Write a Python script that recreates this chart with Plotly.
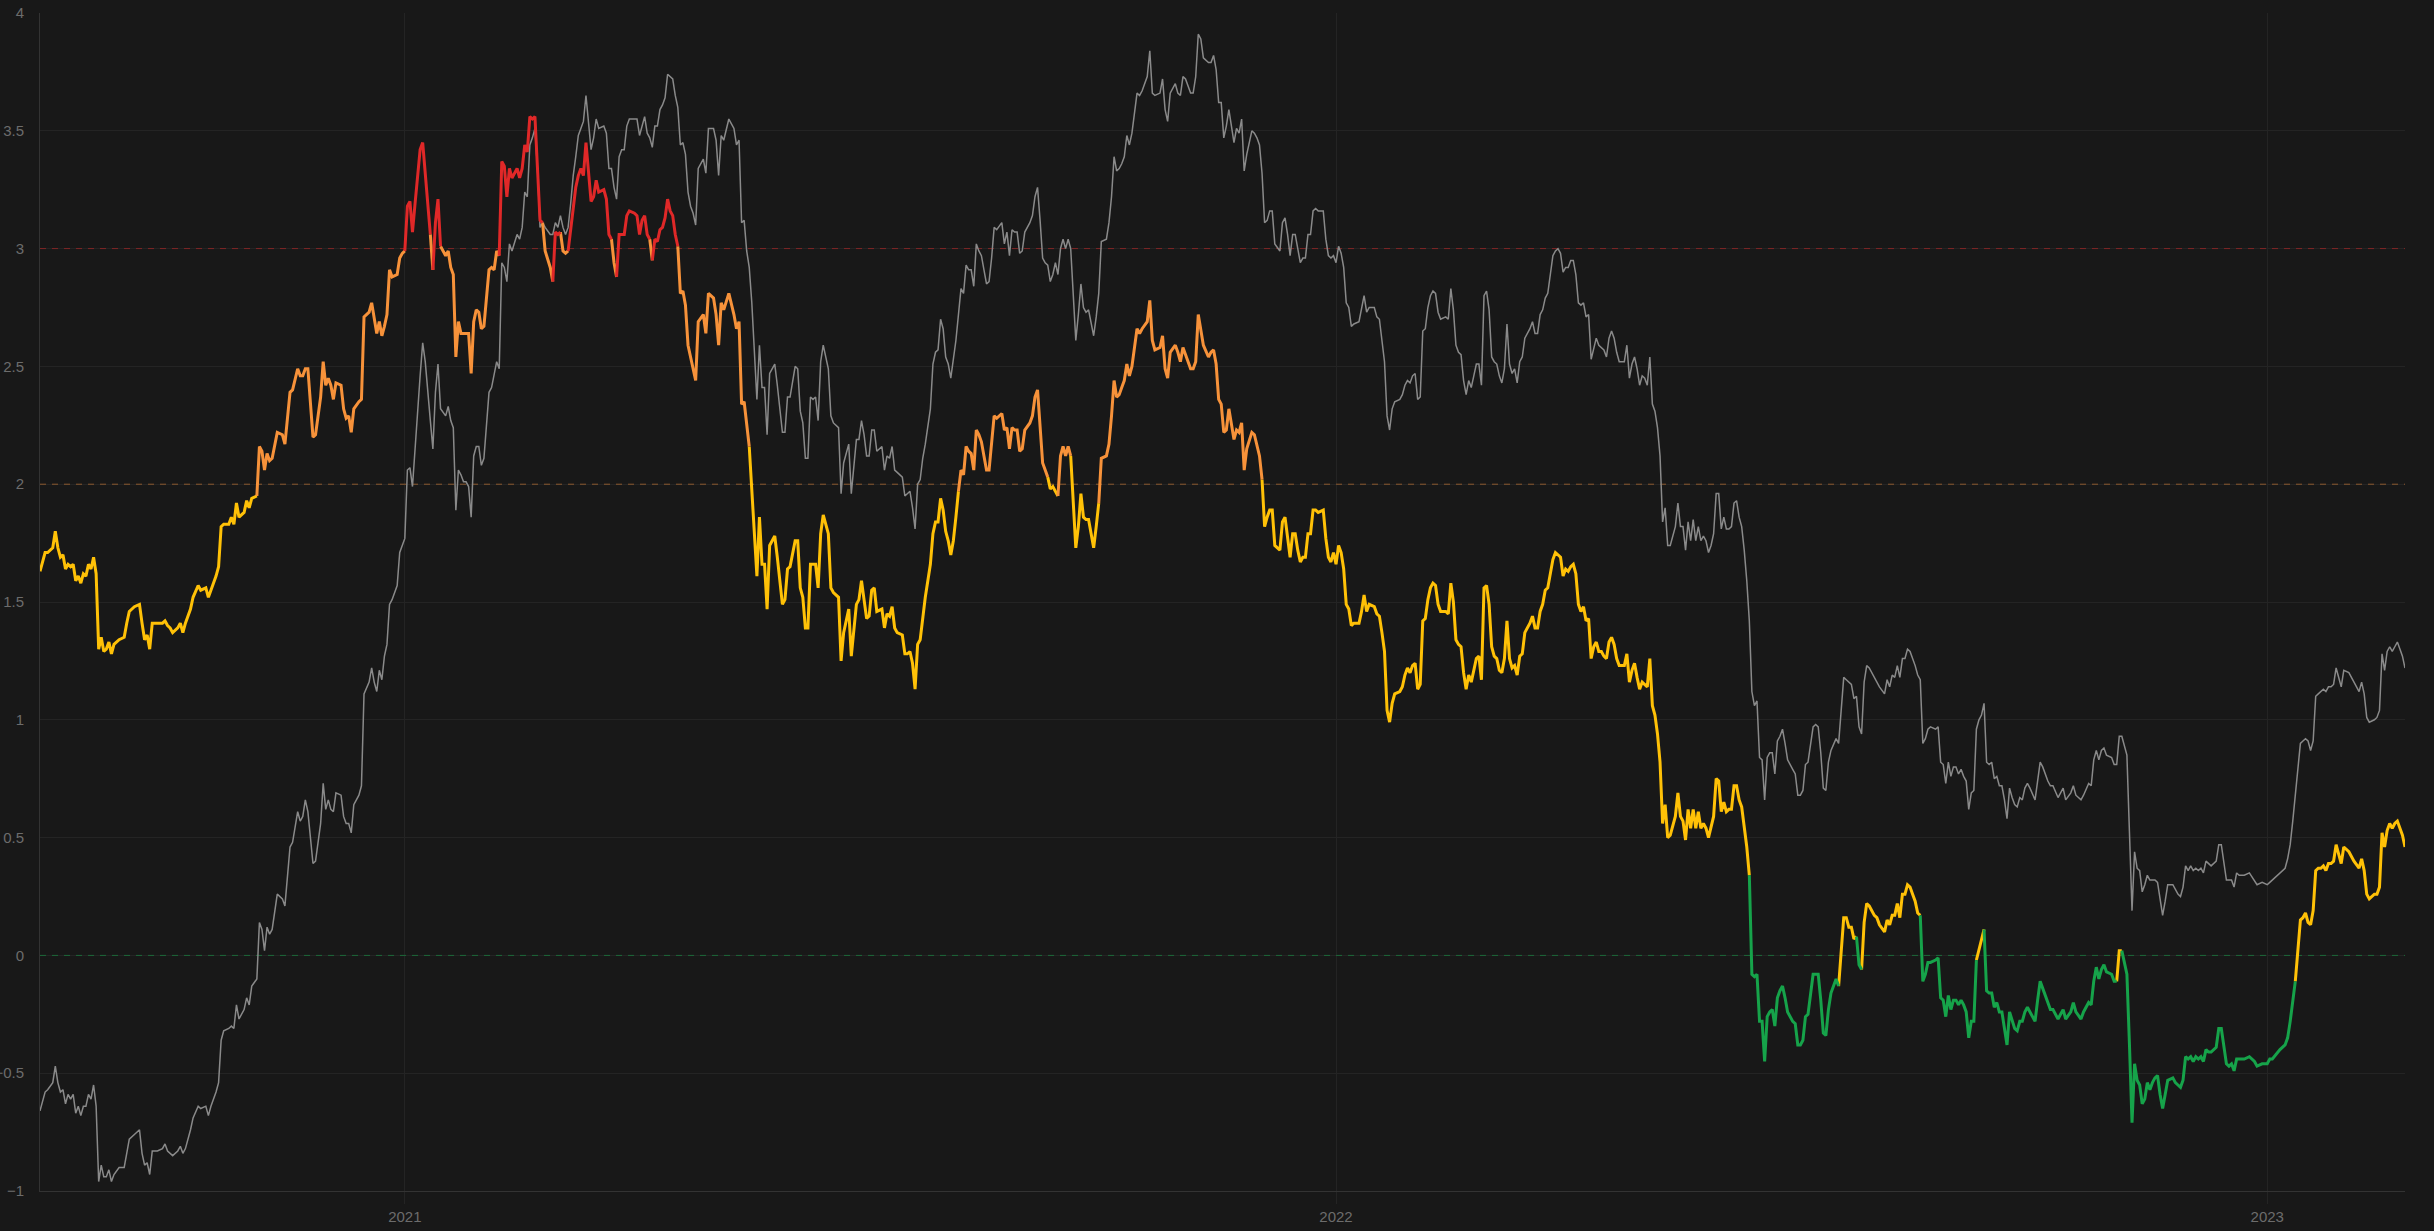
import pandas as pd
import plotly.graph_objects as go

START_DATE = "2020-08-11"

# ---- day offsets from START_DATE ----
days_2020 = [0,2,3,5,6,7,8,9,10,11,12,13,14,15,16,17,18,19,20,21,22,23,24,25,26,27,28,29,31,33,
             34,35,37,39,40,41,42,43,44,46,48,49,50,51,52,54,55,56,57,59,60,62,63,65,66,67,69,70,71,72,
             74,75,76,77,78,80,81,82,83,85,86,87,88,89,90,91,92,93,95,96,98,99,101,102,103,104,105,106,107,108,
             109,110,111,112,113,114,115,116,118,119,120,121,122,123,125,126,127,129,130,131,
             132,133,134,135,136,137,138,140,141,142,143,144,145,146,147,149,150,151,153,154,155,156,157,159,160]
days_2021a = [161,162,163,164,165,166,167,168,169,170,171,172,173,174,176,177,178,179,180,181,
              182,183,184,185,187,188,189,190,191,192,193,194,195,196,197,198,200,201,202,203,
              204,205,206,207,208,209,210,211,212,213,214,215,216,217,218,219,221,222,223,224,
              225,226,227,228,229,230,231,233,234,235,236,237,238,239,240,241,242,243,244,245,
              246,247,248,249,250,251,252,253,254,255,256,257,258,260,261,262,264,265,266,267,
              268,270,272,273,274,275,276,277,278,279,281,282,283,284,285,286,287,288,289,291,
              292,293,294,296,297,298,299,300,301,302,303,304,305,306,307,309,310,311,313,314,
              315,317,318,320,321]
days_2021b = [322,323,324,325,326,327,328,330,331,332,333,334,335,336,338,339,340,341,342,343,
              344,345,346,347,349,350,351,352,353,354,355,356,357,358,359,360,361,362,363,364,
              365,366,367,368,369,370,371,372,373,374,375,377,378,379,380,381,382,383,384,385,
              386,388,389,390,391,392,393,394,395,396,397,398,399,400,401,402,403,404,405,406,
              407,408,409,410,411,412,413,414,415,416,418,419,420,421,422,423,424,425,426,427,
              428,430,431,432,434,435,436,437,439,440,441,442,443,445,446,447,448,449,451,452,
              453,454,455,456,458,459,460,461,462,463,464,465,466,467,468,469,470,471,472,473,
              475,476,477,478,479,480,481]
days_2022a = [482,483,484,486,487,488,489,490,491,492,493,494,495,496,497,498,499,500,501,503,
              504,505,506,507,508,509,510,511,512,513,514,515,517,518,519,520,521,523,524,525,
              526,527,528,529,530,531,533,534,535,536,537,538,539,540,541,542,543,544,545,546,
              547,548,549,551,552,553,554,555,556,557,558,559,560,561,562,563,564,565,566,567,
              568,569,570,571,572,573,574,575,576,577,578,579,580,581,582,583,584,585,586,587,
              588,589,590,591,593,594,595,596,597,598,599,600,601,602,603,604,605,606,607,608,
              609,610,611,612,613,614,615,616,617,618,619,621,622,623,624,625,626,627,628,629,
              630,631,632,633,634,635,636,637,638,639,641,642]
days_2022b = [643,644,645,646,647,648,649,650,651,652,653,654,655,656,657,658,659,660,661,662,
              663,664,665,666,667,668,669,670,671,672,673,674,675,676,677,678,679,680,681,682,
              683,684,685,687,688,689,690,691,692,693,695,696,697,698,699,700,701,702,704,705,
              706,707,708,709,710,711,712,713,714,715,716,717,719,720,721,723,724,725,726,727,
              728,729,730,731,732,733,734,735,736,737,738,739,740,741,743,744,745,746,747,748,
              749,750,751,752,753,754,755,756,757,758,759,760,761,762,763,764,765,766,767,768,
              769,770,771,772,773,774,775,776,777,778,779,780,782,783,784,785,787,788,789,791,
              792,793,794,796,797,798,800,801,803]
days_2023 = [804,805,806,807,808,809,810,812,813,814,815,816,817,818,819,820,821,822,823,824,
             825,826,827,828,829,830,831,832,833,834,836,837,838,839,840,841,842,843,844,845,
             846,847,848,849,850,851,853,854,855,856,857,858,859,860,861,862,864,866,868,869,
             871,873,874,875,877,878,880,881,882,883,884,885,886,887,888,889,890,891,892,893,
             894,895,896,897,898,899,900,902,903,905,906,907,909,910,911,912,913,915,916,917,
             918,919,920,921,922,923,924,925,926,927]

# ---- main indicator (colour-coded line) ----
ind_2020 = [1.63,1.71,1.71,1.73,1.80,1.73,1.69,1.70,1.64,1.66,1.65,1.66,1.59,1.61,1.58,1.62,1.61,1.66,1.64,1.69,
            1.62,1.30,1.35,1.29,1.30,1.33,1.28,1.32,1.34,1.35,1.41,1.46,1.48,1.49,1.41,1.34,1.36,1.30,1.41,1.41,
            1.41,1.42,1.40,1.39,1.37,1.39,1.41,1.37,1.41,1.47,1.52,1.57,1.55,1.56,1.52,1.55,1.61,1.65,1.82,1.83,
            1.83,1.86,1.83,1.92,1.86,1.88,1.93,1.90,1.94,1.95,2.16,2.14,2.06,2.13,2.10,2.11,2.17,2.22,2.21,2.17,
            2.39,2.40,2.49,2.46,2.46,2.49,2.49,2.32,2.20,2.21,2.29,2.37,2.52,2.42,2.45,2.42,2.36,2.43,2.42,2.32,
            2.28,2.29,2.22,2.32,2.35,2.36,2.71,2.73,2.77,2.71,2.64,2.69,2.63,2.67,2.72,2.91,2.88,2.89,2.96,2.98,
            2.99,3.18,3.20,3.07,3.19,3.42,3.45,3.31,3.06,2.91,3.11,3.21,3.01,2.97,2.99]
ind_2021a = [2.92,2.89,2.54,2.69,2.64,2.64,2.64,2.64,2.47,2.69,2.74,2.73,2.66,2.67,2.91,2.92,2.91,2.99,2.97,3.37,
             3.35,3.22,3.34,3.30,3.34,3.30,3.34,3.44,3.41,3.56,3.55,3.56,3.34,3.12,3.11,2.99,2.92,2.86,3.07,3.06,
             3.07,2.99,2.98,2.99,3.07,3.17,3.26,3.31,3.34,3.31,3.45,3.32,3.20,3.22,3.29,3.24,3.25,3.21,3.06,3.04,
             2.94,2.88,3.06,3.06,3.06,3.14,3.16,3.15,3.14,3.06,3.12,3.14,3.06,3.04,2.95,3.04,3.03,3.08,3.09,3.13,
             3.21,3.16,3.14,3.06,3.01,2.81,2.82,2.76,2.59,2.54,2.49,2.44,2.69,2.72,2.64,2.81,2.79,2.72,2.59,2.77,
             2.74,2.81,2.72,2.66,2.69,2.34,2.35,2.24,2.16,1.99,1.61,1.86,1.66,1.66,1.47,1.74,1.76,1.78,1.69,1.49,
             1.51,1.64,1.65,1.76,1.76,1.56,1.52,1.39,1.39,1.66,1.66,1.66,1.56,1.79,1.87,1.79,1.56,1.54,1.52,1.25,
             1.37,1.47,1.27,1.49,1.51]
ind_2021b = [1.59,1.51,1.43,1.44,1.55,1.56,1.46,1.47,1.39,1.45,1.44,1.48,1.39,1.37,1.36,1.28,1.28,1.29,1.24,1.13,
             1.32,1.34,1.44,1.52,1.66,1.79,1.84,1.84,1.94,1.89,1.80,1.76,1.70,1.76,1.86,1.97,2.06,2.04,2.16,2.14,
             2.13,2.06,2.23,2.21,2.18,2.12,2.06,2.06,2.17,2.29,2.28,2.30,2.23,2.24,2.15,2.24,2.23,2.23,2.14,2.15,
             2.23,2.26,2.29,2.37,2.40,2.26,2.09,2.06,2.03,1.98,1.99,1.97,1.95,2.12,2.16,2.12,2.16,2.12,1.92,1.73,
             1.82,1.96,1.86,1.85,1.85,1.79,1.73,1.82,1.92,2.11,2.12,2.17,2.29,2.44,2.37,2.38,2.41,2.44,2.51,2.46,
             2.50,2.66,2.64,2.66,2.69,2.78,2.61,2.57,2.58,2.63,2.49,2.45,2.56,2.59,2.56,2.52,2.58,2.55,2.49,2.49,
             2.52,2.72,2.66,2.59,2.54,2.56,2.57,2.51,2.36,2.34,2.22,2.23,2.32,2.26,2.19,2.23,2.22,2.26,2.06,2.15,
             2.22,2.21,2.17,2.12,2.02,1.82,1.86]
ind_2022a = [1.89,1.89,1.74,1.72,1.84,1.86,1.78,1.69,1.79,1.79,1.72,1.67,1.69,1.69,1.79,1.79,1.89,1.89,1.88,1.89,
             1.77,1.69,1.67,1.71,1.66,1.74,1.71,1.64,1.49,1.47,1.40,1.41,1.41,1.46,1.53,1.46,1.49,1.48,1.45,1.44,
             1.37,1.29,1.04,0.99,1.07,1.11,1.12,1.14,1.19,1.22,1.20,1.23,1.24,1.13,1.15,1.42,1.43,1.51,1.56,1.58,
             1.57,1.49,1.46,1.46,1.45,1.58,1.50,1.34,1.32,1.31,1.20,1.13,1.19,1.16,1.21,1.26,1.27,1.17,1.56,1.57,
             1.49,1.31,1.27,1.26,1.21,1.20,1.26,1.42,1.26,1.22,1.23,1.19,1.27,1.28,1.37,1.39,1.41,1.44,1.39,1.39,
             1.46,1.49,1.55,1.56,1.68,1.71,1.70,1.69,1.61,1.64,1.63,1.65,1.66,1.62,1.49,1.46,1.48,1.42,1.43,1.26,
             1.31,1.33,1.29,1.29,1.27,1.26,1.33,1.35,1.32,1.26,1.23,1.23,1.28,1.16,1.21,1.24,1.18,1.13,1.16,1.15,
             1.14,1.26,1.06,1.02,0.94,0.82,0.56,0.64,0.50,0.51,0.59,0.69]
ind_2022b = [0.59,0.57,0.49,0.62,0.54,0.62,0.54,0.61,0.54,0.56,0.54,0.50,0.54,0.59,0.75,0.74,0.61,0.65,0.61,0.62,
             0.62,0.72,0.72,0.66,0.63,0.54,0.46,0.34,-0.08,-0.09,-0.08,-0.28,-0.28,-0.45,-0.26,-0.24,-0.23,-0.30,-0.18,-0.15,
             -0.13,-0.18,-0.24,-0.28,-0.29,-0.38,-0.38,-0.36,-0.26,-0.25,-0.08,-0.08,-0.08,-0.19,-0.33,-0.34,-0.23,-0.16,-0.10,-0.13,
             0.04,0.16,0.16,0.12,0.12,0.07,0.08,-0.04,-0.06,0.14,0.22,0.21,0.17,0.16,0.13,0.10,0.15,0.13,0.17,0.17,
             0.22,0.16,0.26,0.26,0.30,0.29,0.26,0.23,0.18,0.17,-0.11,-0.08,-0.03,-0.03,-0.02,-0.01,-0.18,-0.19,-0.26,-0.17,
             -0.23,-0.19,-0.19,-0.21,-0.19,-0.21,-0.24,-0.35,-0.28,-0.28,-0.02,0.02,0.06,0.11,-0.15,-0.16,-0.16,-0.22,-0.20,-0.24,
             -0.24,-0.31,-0.38,-0.24,-0.28,-0.31,-0.32,-0.28,-0.28,-0.24,-0.22,-0.24,-0.28,-0.19,-0.11,-0.14,-0.20,-0.23,-0.23,-0.27,
             -0.25,-0.23,-0.27,-0.24,-0.20,-0.24,-0.27,-0.24,-0.20]
ind_2023 = [-0.21,-0.11,-0.05,-0.10,-0.06,-0.04,-0.07,-0.08,-0.11,-0.11,0.02,0.02,-0.03,-0.08,-0.38,-0.71,-0.46,-0.53,-0.55,-0.63,
            -0.61,-0.54,-0.57,-0.54,-0.52,-0.51,-0.59,-0.65,-0.59,-0.53,-0.52,-0.54,-0.55,-0.56,-0.53,-0.43,-0.44,-0.43,-0.45,-0.43,
            -0.44,-0.43,-0.45,-0.40,-0.41,-0.41,-0.39,-0.31,-0.31,-0.39,-0.46,-0.47,-0.46,-0.49,-0.44,-0.44,-0.44,-0.43,-0.45,-0.47,
            -0.46,-0.46,-0.44,-0.44,-0.41,-0.40,-0.38,-0.35,-0.28,-0.19,-0.11,0.02,0.15,0.16,0.18,0.14,0.13,0.19,0.36,0.37,
            0.37,0.38,0.36,0.39,0.39,0.40,0.47,0.39,0.46,0.44,0.42,0.40,0.37,0.41,0.36,0.26,0.24,0.26,0.26,0.29,
            0.52,0.46,0.53,0.56,0.54,0.56,0.57,0.54,0.51,0.46]

# ---- secondary indicator (grey line) ----
sec_2020 = [-0.66,-0.58,-0.57,-0.54,-0.47,-0.54,-0.58,-0.57,-0.63,-0.59,-0.61,-0.59,-0.67,-0.64,-0.68,-0.64,-0.64,-0.59,-0.61,-0.55,
            -0.64,-0.96,-0.89,-0.94,-0.94,-0.91,-0.96,-0.93,-0.90,-0.90,-0.84,-0.78,-0.76,-0.74,-0.84,-0.89,-0.88,-0.93,-0.83,-0.83,
            -0.82,-0.80,-0.83,-0.84,-0.85,-0.83,-0.81,-0.84,-0.82,-0.74,-0.69,-0.64,-0.65,-0.64,-0.68,-0.64,-0.58,-0.54,-0.36,-0.32,
            -0.31,-0.30,-0.31,-0.21,-0.27,-0.23,-0.18,-0.21,-0.13,-0.10,0.14,0.11,0.02,0.12,0.09,0.11,0.19,0.26,0.24,0.21,
            0.46,0.48,0.61,0.57,0.59,0.66,0.61,0.49,0.39,0.40,0.49,0.56,0.73,0.62,0.66,0.62,0.61,0.69,0.68,0.59,
            0.56,0.56,0.52,0.64,0.68,0.72,1.11,1.16,1.22,1.16,1.12,1.21,1.17,1.27,1.32,1.49,1.51,1.57,1.71,1.74,
            1.77,2.06,2.07,1.99,2.16,2.46,2.60,2.52,2.27,2.15,2.39,2.51,2.32,2.29,2.33]
sec_2021a = [2.27,2.24,1.89,2.06,2.04,2.01,2.01,1.99,1.86,2.12,2.16,2.16,2.08,2.11,2.39,2.41,2.46,2.52,2.49,2.94,
             2.92,2.86,3.02,2.99,3.06,3.04,3.09,3.24,3.22,3.44,3.47,3.51,3.34,3.09,3.11,3.09,3.06,3.06,3.11,3.09,
             3.14,3.09,3.06,3.09,3.19,3.31,3.39,3.48,3.51,3.54,3.65,3.52,3.42,3.47,3.55,3.51,3.52,3.49,3.34,3.34,
             3.26,3.21,3.39,3.42,3.42,3.52,3.55,3.55,3.55,3.48,3.52,3.56,3.49,3.47,3.43,3.52,3.52,3.59,3.61,3.64,
             3.74,3.73,3.72,3.65,3.60,3.44,3.45,3.40,3.24,3.18,3.15,3.10,3.34,3.38,3.32,3.51,3.51,3.46,3.31,3.48,
             3.46,3.55,3.51,3.44,3.46,3.11,3.12,2.99,2.92,2.77,2.36,2.59,2.41,2.41,2.21,2.47,2.49,2.51,2.42,2.22,
             2.22,2.37,2.37,2.50,2.49,2.31,2.26,2.11,2.11,2.37,2.36,2.37,2.27,2.52,2.59,2.49,2.29,2.26,2.24,1.96,
             2.09,2.17,1.96,2.19,2.19]
sec_2021b = [2.27,2.21,2.12,2.12,2.23,2.23,2.14,2.16,2.06,2.12,2.11,2.16,2.06,2.05,2.03,1.95,1.96,1.97,1.90,1.81,
             2.00,2.02,2.11,2.17,2.32,2.51,2.56,2.57,2.70,2.66,2.54,2.51,2.45,2.52,2.61,2.72,2.83,2.81,2.93,2.91,
             2.91,2.84,3.02,2.99,2.97,2.91,2.85,2.86,2.96,3.09,3.08,3.11,3.02,3.07,2.97,3.08,3.07,3.07,2.98,2.99,
             3.07,3.11,3.14,3.22,3.26,3.12,2.96,2.94,2.93,2.86,2.89,2.94,2.89,3.00,3.04,3.00,3.04,3.00,2.81,2.61,
             2.72,2.85,2.75,2.73,2.74,2.69,2.63,2.71,2.81,3.03,3.04,3.11,3.22,3.39,3.33,3.34,3.36,3.39,3.48,3.44,
             3.49,3.66,3.65,3.67,3.73,3.84,3.66,3.65,3.66,3.72,3.59,3.54,3.66,3.70,3.66,3.65,3.73,3.72,3.66,3.66,
             3.73,3.91,3.89,3.81,3.79,3.79,3.82,3.76,3.62,3.62,3.47,3.52,3.59,3.52,3.45,3.51,3.49,3.55,3.33,3.40,
             3.50,3.49,3.47,3.44,3.32,3.11,3.12]
sec_2022a = [3.16,3.16,3.02,2.99,3.11,3.13,3.06,2.97,3.06,3.06,3.00,2.94,2.96,2.96,3.06,3.06,3.16,3.17,3.16,3.16,
             3.04,2.97,2.96,2.97,2.94,3.01,2.98,2.92,2.77,2.75,2.67,2.68,2.69,2.74,2.80,2.73,2.75,2.75,2.71,2.70,
             2.62,2.52,2.29,2.23,2.32,2.35,2.36,2.38,2.42,2.44,2.43,2.46,2.47,2.36,2.37,2.65,2.66,2.75,2.80,2.82,
             2.81,2.73,2.70,2.71,2.70,2.83,2.74,2.59,2.56,2.55,2.44,2.38,2.44,2.41,2.46,2.51,2.51,2.42,2.80,2.82,
             2.74,2.54,2.52,2.51,2.46,2.43,2.49,2.68,2.51,2.47,2.49,2.43,2.52,2.54,2.62,2.64,2.66,2.69,2.64,2.64,
             2.72,2.74,2.79,2.81,2.97,2.99,3.00,2.98,2.90,2.92,2.92,2.95,2.95,2.89,2.77,2.76,2.77,2.71,2.72,2.53,
             2.57,2.62,2.59,2.58,2.57,2.54,2.62,2.65,2.62,2.56,2.52,2.52,2.59,2.45,2.51,2.54,2.49,2.42,2.46,2.45,
             2.42,2.54,2.34,2.31,2.24,2.12,1.84,1.90,1.74,1.74,1.82,1.92]
sec_2022b = [1.82,1.82,1.72,1.84,1.76,1.85,1.76,1.82,1.76,1.78,1.76,1.71,1.74,1.79,1.96,1.96,1.81,1.86,1.81,1.81,
             1.82,1.92,1.93,1.86,1.82,1.72,1.59,1.42,1.12,1.06,1.08,0.84,0.83,0.66,0.84,0.86,0.86,0.77,0.91,0.93,
             0.96,0.90,0.83,0.79,0.77,0.68,0.68,0.70,0.81,0.82,0.97,0.98,0.97,0.86,0.71,0.70,0.82,0.87,0.92,0.90,
             1.06,1.18,1.17,1.16,1.15,1.09,1.10,0.97,0.94,1.16,1.23,1.22,1.18,1.16,1.14,1.11,1.17,1.14,1.19,1.18,
             1.23,1.18,1.26,1.26,1.30,1.29,1.26,1.23,1.19,1.17,0.90,0.92,0.96,0.97,0.96,0.97,0.82,0.81,0.73,0.82,
             0.76,0.80,0.80,0.77,0.79,0.76,0.74,0.62,0.69,0.70,0.96,1.00,1.02,1.07,0.82,0.81,0.82,0.75,0.76,0.72,
             0.72,0.66,0.58,0.71,0.67,0.64,0.63,0.67,0.66,0.71,0.73,0.71,0.66,0.74,0.82,0.80,0.74,0.72,0.72,0.67,
             0.69,0.71,0.66,0.69,0.72,0.68,0.66,0.68,0.73]
sec_2023 = [0.72,0.83,0.87,0.83,0.87,0.88,0.85,0.84,0.81,0.81,0.93,0.93,0.89,0.85,0.52,0.19,0.44,0.37,0.36,0.27,
            0.30,0.34,0.32,0.32,0.32,0.31,0.23,0.17,0.23,0.30,0.30,0.28,0.26,0.25,0.29,0.38,0.36,0.38,0.36,0.37,
            0.36,0.37,0.35,0.40,0.39,0.38,0.40,0.47,0.47,0.40,0.32,0.32,0.32,0.29,0.35,0.34,0.34,0.35,0.32,0.30,
            0.31,0.30,0.31,0.32,0.34,0.35,0.37,0.41,0.47,0.57,0.69,0.79,0.90,0.91,0.92,0.91,0.87,0.91,1.10,1.11,
            1.12,1.13,1.12,1.14,1.14,1.15,1.22,1.14,1.21,1.20,1.18,1.16,1.12,1.16,1.11,1.01,0.99,1.00,1.01,1.04,
            1.28,1.21,1.29,1.31,1.29,1.31,1.33,1.30,1.27,1.22]

# threshold levels
levels = [0, 2, 3]

days = days_2020 + days_2021a + days_2021b + days_2022a + days_2022b + days_2023
ind = ind_2020 + ind_2021a + ind_2021b + ind_2022a + ind_2022b + ind_2023
sec = sec_2020 + sec_2021a + sec_2021b + sec_2022a + sec_2022b + sec_2023
assert len(days) == len(ind) == len(sec), (len(days), len(ind), len(sec))

dates = list(pd.Timestamp(START_DATE) + pd.to_timedelta(days, unit="D"))

BG = "#181818"
GRID = "#242424"
AXIS = "#333333"
TICK_FONT = dict(family="Liberation Sans, Arial, sans-serif", size=15, color="#6c6c6c")

ZONE_COLORS = {0: "#16a34a", 1: "#ffc107", 2: "#f7923a", 3: "#e02828"}
LEVEL_COLORS = {0: "rgba(22,163,74,0.55)", 2: "rgba(247,146,58,0.5)", 3: "rgba(224,40,40,0.5)"}


def zone(v):
    if v > 3:
        return 3
    if v >= 2:
        return 2
    if v >= 0:
        return 1
    return 0


fig = go.Figure()

# dashed threshold lines
for lv in levels:
    fig.add_trace(go.Scatter(
        x=[dates[0], dates[-1]], y=[lv, lv], mode="lines",
        line=dict(color=LEVEL_COLORS[lv], width=1, dash="6px,6px"),
        hoverinfo="skip", showlegend=False))

# grey secondary line
fig.add_trace(go.Scatter(x=dates, y=sec, mode="lines",
                         line=dict(color="#8a8a8a", width=1.5),
                         showlegend=False, hoverinfo="skip"))

# colour-coded main line: each segment coloured by the zone of its end point
segs = {z: ([], []) for z in ZONE_COLORS}
i = 1
n = len(ind)
while i < n:
    z = zone(ind[i])
    j = i
    while j + 1 < n and zone(ind[j + 1]) == z:
        j += 1
    xs, ys = segs[z]
    if xs:
        xs.append(None)
        ys.append(None)
    xs.extend(dates[i - 1:j + 1])
    ys.extend(ind[i - 1:j + 1])
    i = j + 1

for z in [1, 2, 3, 0]:
    xs, ys = segs[z]
    if xs:
        fig.add_trace(go.Scatter(x=xs, y=ys, mode="lines", connectgaps=False,
                                 line=dict(color=ZONE_COLORS[z], width=3),
                                 showlegend=False, hoverinfo="skip"))

fig.update_layout(
    width=2434, height=1231,
    margin=dict(l=40, r=29, t=13, b=40, autoexpand=False),
    paper_bgcolor=BG, plot_bgcolor=BG,
    showlegend=False,
    xaxis=dict(type="date", range=[dates[0], dates[-1]],
               showgrid=True, gridcolor=GRID, gridwidth=1,
               tick0="2021-01-01", dtick="M12", tickformat="%Y",
               ticks="outside", ticklen=12, tickcolor=GRID,
               showline=True, linecolor=AXIS, linewidth=1,
               zeroline=False, tickfont=TICK_FONT),
    yaxis=dict(range=[-1, 4], tick0=0, dtick=0.5,
               showgrid=True, gridcolor=GRID, gridwidth=1,
               showline=True, linecolor=AXIS, linewidth=1,
               zeroline=False, ticks="", ticklabelstandoff=12,
               tickfont=TICK_FONT),
)

fig.write_html("out.html",
               config={"displayModeBar": False},
               post_script="document.body.style.margin='0';document.body.style.overflow='hidden';")
